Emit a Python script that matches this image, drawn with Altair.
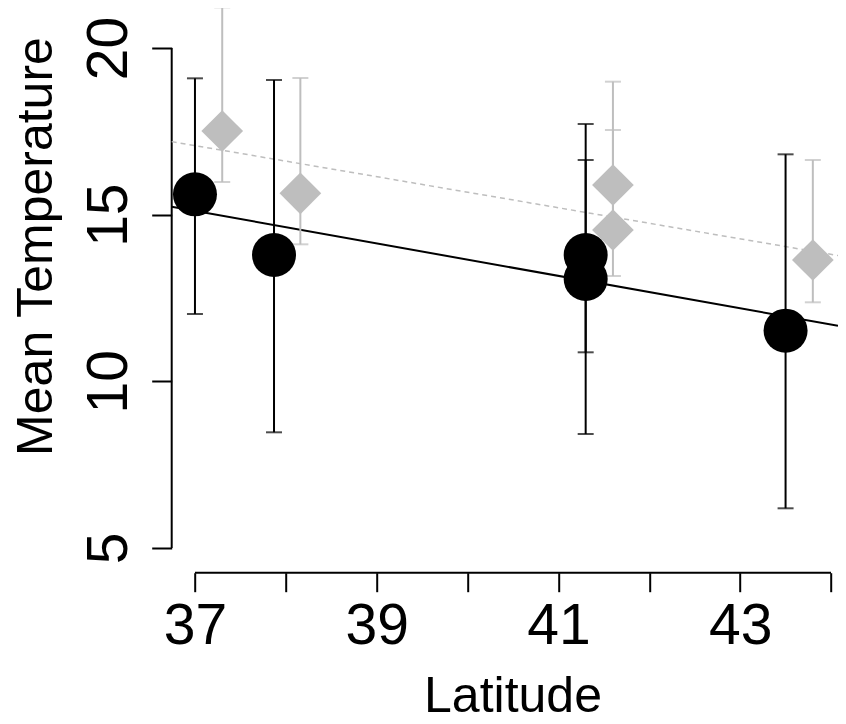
import altair as alt
import pandas as pd

# ---- data ----
black_lat = [37.0, 37.87, 41.3, 41.3, 43.5]
black_temp = [15.61, 13.79, 13.79, 13.07, 11.52]
black_lo = [12.02, 8.47, 10.87, 8.42, 6.19]
black_hi = [19.09, 19.04, 17.72, 16.64, 16.81]

gray_lat = [37.3, 38.16, 41.6, 41.6, 43.8]
gray_temp = [17.51, 15.64, 15.89, 14.54, 13.64]
gray_lo = [15.98, 14.11, 14.4, 13.16, 12.37]
gray_hi = [21.22, 19.1, 18.99, 17.54, 16.64]

x_ticks = [37, 38, 39, 40, 41, 42, 43, 44]
y_ticks = [5, 10, 15, 20]

X_DOMAIN = [36.744, 44.077]
Y_DOMAIN = [4.258, 21.2]

BLACK = "#000000"
GRAY = "#bebebe"
FONT = "Liberation Sans"

black = pd.DataFrame({"lat": black_lat, "temp": black_temp, "lo": black_lo, "hi": black_hi})
gray = pd.DataFrame({"lat": gray_lat, "temp": gray_temp, "lo": gray_lo, "hi": gray_hi})

xs = alt.Scale(domain=X_DOMAIN, nice=False, zero=False)
ys = alt.Scale(domain=Y_DOMAIN, nice=False, zero=False)

xaxis = alt.Axis(
    values=x_ticks,
    labelExpr="datum.value % 2 == 1 ? datum.label : ''",
    tickSize=19, tickWidth=2, tickColor=BLACK,
    labelFontSize=57, labelPadding=7, labelBaseline="top", labelAlign="center",
    labelFlush=False, labelOverlap=False,
    titleFontSize=50, titleX=340.8, titleY=139, titleBaseline="alphabetic",
    titleAlign="center",
)
yaxis = alt.Axis(
    values=y_ticks,
    tickSize=20, tickWidth=2, tickColor=BLACK,
    labelFontSize=57, labelAngle=270, labelAlign="center", labelBaseline="alphabetic",
    labelPadding=25, labelFlush=False, labelOverlap=False,
    titleFontSize=50, titleAngle=270, titleX=-120, titleY=238,
    titleBaseline="alphabetic", titleAlign="center",
)


def X(field):
    return alt.X(field, type="quantitative", scale=xs, axis=xaxis, title="Latitude")


def Y(field):
    return alt.Y(field, type="quantitative", scale=ys, axis=yaxis, title="Mean Temperature")


# axis lines spanning only the tick range (R style)
xline_df = pd.DataFrame({"lat": [min(x_ticks)], "lat2": [max(x_ticks)], "temp": [Y_DOMAIN[0]]})
yline_df = pd.DataFrame({"lat": [X_DOMAIN[0]], "temp": [min(y_ticks)], "temp2": [max(y_ticks)]})

xline = alt.Chart(xline_df).mark_rule(color=BLACK, strokeWidth=2).encode(
    x=X("lat"), x2="lat2", y=Y("temp"))
yline = alt.Chart(yline_df).mark_rule(color=BLACK, strokeWidth=2).encode(
    x=X("lat"), y=Y("temp"), y2="temp2")

gray_fit = alt.Chart(gray).transform_regression("lat", "temp", extent=X_DOMAIN).mark_line(
    color=GRAY, strokeWidth=1.5, strokeDash=[5, 4]).encode(x=X("lat"), y=Y("temp"))
black_fit = alt.Chart(black).transform_regression("lat", "temp", extent=X_DOMAIN).mark_line(
    color=BLACK, strokeWidth=2).encode(x=X("lat"), y=Y("temp"))

gray_err = alt.Chart(gray).mark_errorbar(ticks=True, size=16, thickness=2, color=GRAY).encode(
    x=X("lat"), y=Y("lo"), y2="hi")
black_err = alt.Chart(black).mark_errorbar(ticks=True, size=16, thickness=2, color=BLACK).encode(
    x=X("lat"), y=Y("lo"), y2="hi")

gray_pts = alt.Chart(gray).mark_point(shape="diamond", filled=True, size=1740, opacity=1,
                                      color=GRAY).encode(x=X("lat"), y=Y("temp"))
black_pts = alt.Chart(black).mark_point(shape="circle", filled=True, size=1936, opacity=1,
                                        color=BLACK).encode(x=X("lat"), y=Y("temp"))

chart = alt.layer(
    xline, yline, gray_fit, black_fit, gray_err, gray_pts, black_err, black_pts
).properties(
    width=666.3, height=564.7,
    autosize=alt.AutoSizeParams(type="none"),
    padding={"left": 163.7, "top": 0, "right": 0, "bottom": 151.3},
    background="white",
).configure_view(stroke=None).configure_axis(
    grid=False, domain=False, labelFont=FONT, titleFont=FONT,
    labelColor=BLACK, titleColor=BLACK, titleFontWeight="normal",
)

chart.save("out.html", embed_options={"renderer": "svg", "actions": False})
